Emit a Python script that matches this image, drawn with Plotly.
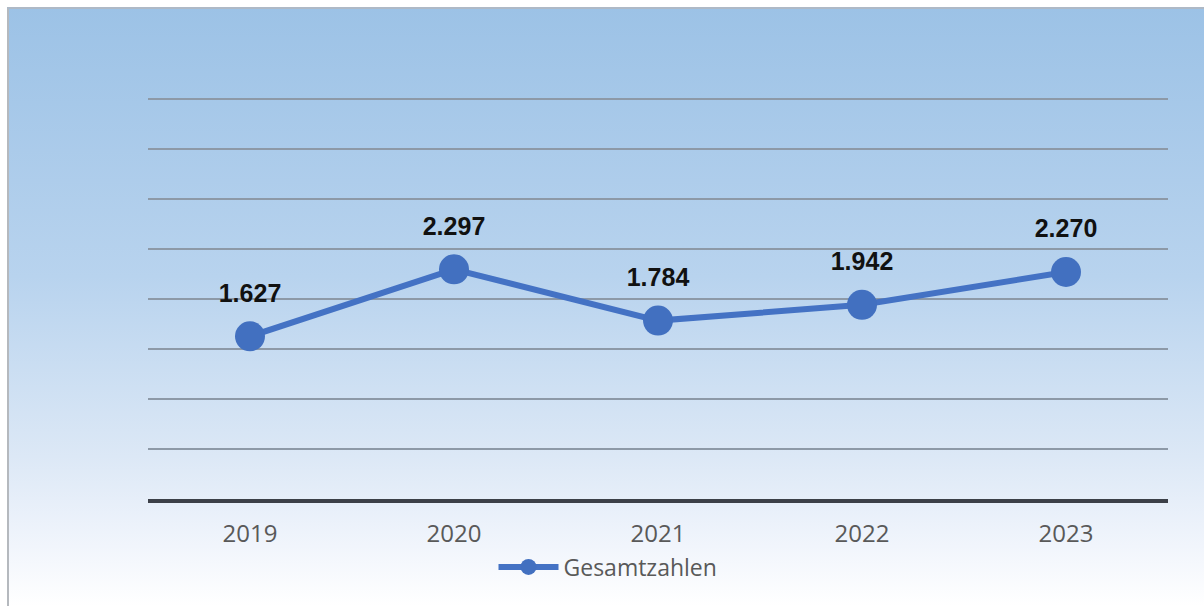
import base64
import plotly.graph_objects as go

# Jahreswerte
jahre = ["2019", "2020", "2021", "2022", "2023"]
gesamtzahlen = [1627, 2297, 1784, 1942, 2270]
serie_name = "Gesamtzahlen"
beschriftung = [f"{v:,}".replace(",", ".") for v in gesamtzahlen]

W, H = 1204, 606
L, R, T, B = 148, 36, 97, 107
pw, ph = W - L - R, H - T - B

# Hintergrund mit Farbverlauf als SVG
svg = f"""<svg xmlns='http://www.w3.org/2000/svg' width='1197' height='599' viewBox='0 0 1197 599' preserveAspectRatio='none'>
<defs><linearGradient id='g' x1='0' y1='0' x2='0' y2='1'>
<stop offset='0' stop-color='#9CC2E6'/>
<stop offset='0.45' stop-color='#B8D3EE'/>
<stop offset='0.75' stop-color='#DCE8F6'/>
<stop offset='0.9' stop-color='#F1F5FC'/>
<stop offset='1' stop-color='#FFFFFF'/>
</linearGradient></defs>
<rect x='0' y='0' width='1197' height='599' fill='url(#g)'/>
<line x1='0.5' y1='0' x2='0.5' y2='599' stroke='#B5B9BE' stroke-width='3'/>
<line x1='0' y1='1' x2='1197' y2='1' stroke='#AEB9C6' stroke-width='2'/>
</svg>"""
bg = "data:image/svg+xml;base64," + base64.b64encode(svg.encode()).decode()

fig = go.Figure()
fig.add_trace(go.Scatter(
    x=jahre, y=gesamtzahlen, name=serie_name, mode="lines+markers",
    line=dict(color="#4472C4", width=6),
    marker=dict(color="#4270C0", size=30),
    showlegend=True,
))
# Wertebeschriftungen über den Punkten (unsichtbare Marker als Abstandshalter)
fig.add_trace(go.Scatter(
    x=jahre, y=gesamtzahlen, mode="markers+text", showlegend=False,
    marker=dict(size=44, opacity=0),
    text=["<b>" + t + "</b>" for t in beschriftung], textposition="top center",
    textfont=dict(family="Liberation Sans", size=25, color="#111111"),
    hoverinfo="skip",
))

fig.add_layout_image(dict(
    source=bg, xref="paper", yref="paper",
    x=(7 - L) / pw, y=(H - B - 7) / ph,
    sizex=(W - 7) / pw, sizey=(H - 7) / ph,
    xanchor="left", yanchor="top", sizing="stretch", layer="below",
))

fig.update_layout(
    width=W, height=H,
    margin=dict(l=L, r=R, t=T, b=B),
    paper_bgcolor="white", plot_bgcolor="rgba(0,0,0,0)",
    font=dict(family="Open Sans", color="#595959"),
    legend=dict(
        orientation="h", x=(608 - L) / pw, xanchor="center",
        y=(H - B - 567) / ph, yanchor="middle",
        font=dict(family="Open Sans", size=23, color="#595959"),
        bgcolor="rgba(0,0,0,0)", itemwidth=60,
    ),
    xaxis=dict(
        type="category", range=[-0.5, 4.5],
        showgrid=False, showline=True, linecolor="#3C4048", linewidth=4,
        ticks="", tickfont=dict(family="Open Sans", size=24, color="#595959"),
        ticklabelstandoff=10,
    ),
    yaxis=dict(
        range=[0, 4020], tickvals=[500, 1000, 1500, 2000, 2500, 3000, 3500, 4000],
        showticklabels=False,
        showgrid=True, gridcolor="#8D99A7", gridwidth=2, zeroline=False,
    ),
)

fig.write_html("out.html")
